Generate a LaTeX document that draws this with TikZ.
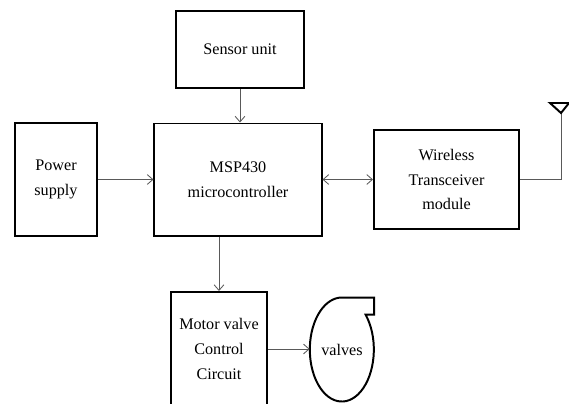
\documentclass[tikz,border=0pt]{standalone}
\usepackage{fontspec}
\setmainfont{Liberation Serif}
\usetikzlibrary{shapes.geometric, arrows.meta}
\begin{document}
\begin{tikzpicture}[x=0.025cm, y=-0.025cm, >={Straight Barb[length=4pt, width=7pt]},
        block/.style = {draw, line width=1.4pt, align=center, inner sep=0pt, font=\fontsize{11.5}{17.5}\selectfont},
        link/.style = {draw = black!65, line width=0.6pt}]
         \clip (0, 0) rectangle (569, 403);
         \node [block, minimum width=3.2cm, minimum height=1.925cm] (sensor) at (240, 49.5) {Sensor unit};
         \node [block, minimum width=2.05cm, minimum height=2.825cm] (power) at (56, 179.5) {Power\\supply};
         \node [block, minimum width=4.175cm, minimum height=2.8cm] (msp) at (238, 179.5) {MSP430\\microcontroller};
         \node [block, minimum width=3.625cm, minimum height=2.475cm] (wireless) at (446.5, 179.5) {Wireless\\Transceiver\\module};
         \node [block, minimum width=2.4cm, minimum height=2.85cm] (motor) at (219, 349) {Motor valve\\Control\\Circuit};
         \node [font=\fontsize{11.5}{17.5}\selectfont, ellipse, minimum width=1.6cm, minimum height=2.6cm, inner sep=0pt] (valves) at (342, 350) {valves};
         \draw [line width=1.4pt] (valves.north) -- ++(0.8cm, 0) -- ++(0, -0.425cm) -- ++(-0.21cm, 0) arc [start angle=42, end angle=-270, x radius=0.8cm, y radius=1.3cm];
         \coordinate (ant) at (561, 113);
         \draw [link] (wireless.east) -- (wireless.east -| ant) -- (ant);
         \draw [line width=1.4pt] (ant) -- ++(-0.275cm, 0.25cm) -- ++(0.475cm, 0) -- cycle;
         \draw [link, ->] (sensor.south) -- (sensor.south |- msp.north);
         \draw [link, ->] (power.east) -- (msp.west);
         \draw [link, <->] (msp.east) -- (wireless.west);
         \draw [link, ->] (msp.south -| motor.north) -- (motor.north);
         \draw [link, ->] (motor.east) -- (motor.east -| valves.west);
        \end{tikzpicture}
\end{document}
